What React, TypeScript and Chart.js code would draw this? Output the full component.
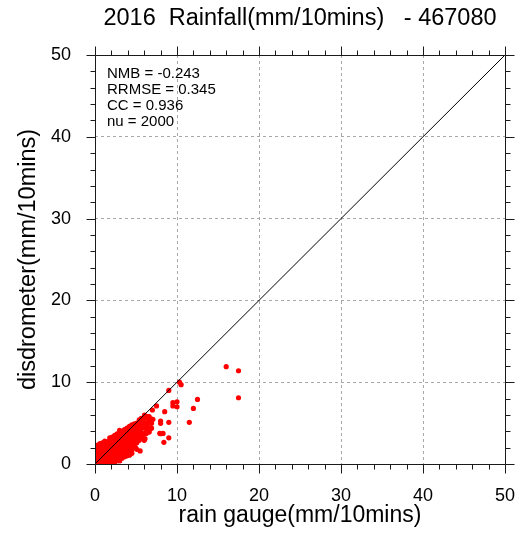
import React, { useEffect, useRef } from 'react';
import { Chart, registerables } from 'chart.js';

Chart.register(...registerables);

const chartTitle = '2016  Rainfall(mm/10mins)   - 467080';
const xAxisTitle = 'rain gauge(mm/10mins)';
const yAxisTitle = 'disdrometer(mm/10mins)';
const axisMin = 0;
const axisMax = 50;
const majorStep = 10;
const minorStep = 2;
const statsLines = ['NMB = -0.243', 'RRMSE = 0.345', 'CC = 0.936', 'nu = 2000'];
const oneToOneLine: [number, number][] = [[0, 0], [50, 50]];

// dense cluster near the origin [rain gauge, disdrometer]
const coreSamples: [number, number][] = [
  [0.3, 0.2], [0.3, 0.5], [0.3, 0.8], [0.3, 1.1], [0.3, 1.4], [0.3, 1.7], [0.3, 2.0], [0.3, 2.3],
  [0.6, 0.1], [0.6, 0.4], [0.6, 0.7], [0.6, 1.0], [0.6, 1.3], [0.6, 1.6], [0.6, 1.9], [0.6, 2.2], [0.6, 2.5],
  [0.9, 0.2], [0.9, 0.5], [0.9, 0.8], [0.9, 1.1], [0.9, 1.4], [0.9, 1.7], [0.9, 2.0], [0.9, 2.3], [0.9, 2.6],
  [1.2, 0.1], [1.2, 0.4], [1.2, 0.7], [1.2, 1.0], [1.2, 1.3], [1.2, 1.6], [1.2, 1.9], [1.2, 2.2], [1.2, 2.5], [1.2, 2.8],
  [1.5, 0.3], [1.5, 0.6], [1.5, 0.9], [1.5, 1.2], [1.5, 1.5], [1.5, 1.8], [1.5, 2.1], [1.5, 2.4], [1.5, 2.7],
  [1.8, 0.2], [1.8, 0.5], [1.8, 0.8], [1.8, 1.1], [1.8, 1.4], [1.8, 1.7], [1.8, 2.0], [1.8, 2.3], [1.8, 2.6], [1.8, 2.9], [1.8, 3.2],
  [2.1, 0.3], [2.1, 0.6], [2.1, 0.9], [2.1, 1.2], [2.1, 1.5], [2.1, 1.8], [2.1, 2.1], [2.1, 2.4], [2.1, 2.7], [2.1, 3.0], [2.1, 3.3],
  [2.4, 0.2], [2.4, 0.5], [2.4, 0.8], [2.4, 1.1], [2.4, 1.4], [2.4, 1.7], [2.4, 2.0], [2.4, 2.3], [2.4, 2.6], [2.4, 2.9], [2.4, 3.2], [2.4, 3.5],
  [2.7, 0.4], [2.7, 0.7], [2.7, 1.0], [2.7, 1.3], [2.7, 1.6], [2.7, 1.9], [2.7, 2.2], [2.7, 2.5], [2.7, 2.8], [2.7, 3.1], [2.7, 3.4], [2.7, 3.7],
  [3.0, 0.4], [3.0, 0.8], [3.0, 1.1], [3.0, 1.4], [3.0, 1.7], [3.0, 2.0], [3.0, 2.3], [3.0, 2.6], [3.0, 2.9], [3.0, 3.2], [3.0, 3.5], [3.0, 3.8], [3.0, 4.1],
  [3.3, 0.7], [3.3, 1.0], [3.3, 1.3], [3.3, 1.6], [3.3, 1.9], [3.3, 2.2], [3.3, 2.5], [3.3, 2.8], [3.3, 3.1], [3.3, 3.4], [3.3, 3.7], [3.3, 4.0],
  [3.6, 0.9], [3.6, 1.2], [3.6, 1.5], [3.6, 1.8], [3.6, 2.1], [3.6, 2.4], [3.6, 2.7], [3.6, 3.0], [3.6, 3.3], [3.6, 3.6], [3.6, 3.9], [3.6, 4.2],
  [3.9, 1.0], [3.9, 1.4], [3.9, 1.7], [3.9, 2.0], [3.9, 2.3], [3.9, 2.6], [3.9, 2.9], [3.9, 3.2], [3.9, 3.5], [3.9, 3.8], [3.9, 4.1], [3.9, 4.4],
  [4.2, 1.1], [4.2, 1.5], [4.2, 1.9], [4.2, 2.2], [4.2, 2.5], [4.2, 2.8], [4.2, 3.1], [4.2, 3.4], [4.2, 3.7], [4.2, 4.0], [4.2, 4.3], [4.2, 4.6],
  [4.5, 1.3], [4.5, 1.7], [4.5, 2.1], [4.5, 2.5], [4.5, 2.9], [4.5, 3.2], [4.5, 3.5], [4.5, 3.8], [4.5, 4.1], [4.5, 4.4], [4.5, 4.8],
  [4.8, 2.0], [4.8, 2.4], [4.8, 2.8], [4.8, 3.2], [4.8, 3.6], [4.8, 4.0], [4.8, 4.4], [4.8, 4.9],
  [5.1, 1.8], [5.1, 2.6], [5.1, 3.0], [5.1, 3.4], [5.1, 3.8], [5.1, 4.2], [5.1, 4.6], [5.1, 5.0],
  [5.4, 2.9], [5.4, 3.3], [5.4, 3.7], [5.4, 4.1], [5.4, 4.5], [5.4, 5.0], [5.4, 5.4],
  [5.7, 3.3], [5.7, 3.8], [5.7, 4.4], [5.7, 4.9], [5.7, 5.4],
  [6.0, 3.0], [6.0, 3.7], [6.0, 4.4], [6.0, 5.0], [6.0, 5.6],
  [6.3, 4.0], [6.3, 4.6], [6.3, 5.0], [6.3, 5.8],
  [6.6, 3.9], [6.6, 4.4], [6.6, 5.0], [6.6, 5.4], [6.6, 5.8],
  [6.9, 4.4], [6.9, 5.0], [6.9, 5.5],
];

// scattered points away from the cluster [rain gauge, disdrometer]
const outlierSamples: [number, number][] = [
  [10.3, 10.0], [10.5, 9.7], [9.0, 9.0], [12.5, 7.9], [17.5, 8.1], [16.0, 11.9], [17.5, 11.4],
  [10.0, 7.6], [9.5, 7.5], [9.5, 7.1], [10.0, 7.0], [7.5, 7.1], [12.0, 6.8], [7.0, 6.6], [8.5, 6.4],
  [8.0, 5.25], [8.0, 4.97], [9.0, 5.1], [11.5, 5.1], [8.0, 3.7], [9.0, 3.2], [8.4, 2.65],
  [6.0, 2.9], [6.1, 3.1], [5.5, 1.6], [4.95, 2.0], [4.2, 1.1], [3.0, 0.4],
  [7.06, 5.46], [6.57, 5.37], [6.04, 5.58], [5.64, 5.58], [5.43, 4.97], [6.57, 3.95], [7.9, 3.75],
  [6.04, 5.98], [6.45, 5.78], [6.25, 4.97], [6.86, 4.97], [5.64, 4.36], [6.25, 4.36], [6.86, 4.36],
  [6.25, 3.74], [8.3, 3.74], [5.64, 3.33],
];

const framePlugin = {
  id: 'ncFrame',
  afterDatasetsDraw(chart: any) {
    const { ctx, chartArea: a, scales } = chart;
    const xs = scales.x;
    const ys = scales.y;
    ctx.save();
    ctx.strokeStyle = '#1a1a1a';
    ctx.lineWidth = 1;
    const L = Math.round(a.left) + 0.5;
    const R = Math.round(a.right) + 0.5;
    const T = Math.round(a.top) + 0.5;
    const B = Math.round(a.bottom) + 0.5;
    ctx.beginPath();
    ctx.rect(L, T, R - L, B - T);
    ctx.stroke();
    ctx.beginPath();
    for (let v = axisMin; v <= axisMax; v += minorStep) {
      const len = v % majorStep === 0 ? 9 : 5;
      const px = Math.round(xs.getPixelForValue(v)) + 0.5;
      const py = Math.round(ys.getPixelForValue(v)) + 0.5;
      ctx.moveTo(px, B); ctx.lineTo(px, B + len);
      ctx.moveTo(px, T); ctx.lineTo(px, T - len);
      ctx.moveTo(L, py); ctx.lineTo(L - len, py);
      ctx.moveTo(R, py); ctx.lineTo(R + len, py);
    }
    ctx.stroke();
    ctx.fillStyle = '#000';
    ctx.font = '15px "Liberation Sans", Arial, Helvetica, sans-serif';
    ctx.textAlign = 'left';
    ctx.textBaseline = 'alphabetic';
    statsLines.forEach((s, i) => {
      ctx.fillText(s, a.left + 12, a.top + 23 + i * 16);
    });
    ctx.restore();
  },
};

export default function App() {
  const ref = useRef<HTMLCanvasElement | null>(null);
  useEffect(() => {
    if (!ref.current) return;
    Chart.defaults.font.family = '"Liberation Sans", Arial, Helvetica, sans-serif';
    Chart.defaults.color = '#000';
    const gridColor = (c: any) =>
      c.tick && c.tick.value > axisMin && c.tick.value < axisMax ? '#a8a8a8' : 'rgba(0,0,0,0)';
    const chart = new Chart(ref.current, {
      type: 'scatter',
      data: {
        datasets: [
          {
            type: 'line',
            data: oneToOneLine.map(([x, y]) => ({ x, y })),
            borderColor: '#000',
            borderWidth: 1,
            pointRadius: 0,
            fill: false,
          } as any,
          {
            data: coreSamples.concat(outlierSamples).map(([x, y]) => ({ x, y })),
            backgroundColor: '#ff0000',
            borderWidth: 0,
            pointRadius: 2.6,
          },
        ],
      },
      plugins: [framePlugin],
      options: {
        animation: false,
        responsive: false,
        devicePixelRatio: 1,
        layout: { padding: { top: 0, right: 13, bottom: 0, left: 0 } },
        plugins: {
          legend: { display: false },
          tooltip: { enabled: false },
          title: {
            display: true,
            text: chartTitle,
            fullSize: false,
            color: '#000',
            font: { size: 23.5, weight: 'normal' },
            padding: { top: 4, bottom: 22.8 },
          },
        },
        scales: {
          x: {
            type: 'linear',
            min: axisMin,
            max: axisMax,
            ticks: { stepSize: majorStep, padding: 21, font: { size: 18 }, color: '#000', maxRotation: 0 },
            grid: { drawTicks: false, color: gridColor, lineWidth: 1 },
            border: { display: false, dash: [3, 3] },
            title: { display: true, text: xAxisTitle, color: '#000', font: { size: 23 }, padding: { top: 0, bottom: 14 } },
            afterFit: (s: any) => {
              s.height = 79;
              s.paddingLeft = 0;
              s.paddingRight = 0;
            },
          },
          y: {
            type: 'linear',
            min: axisMin,
            max: axisMax,
            ticks: { stepSize: majorStep, padding: 24, font: { size: 18 }, color: '#000' },
            grid: { drawTicks: false, color: gridColor, lineWidth: 1 },
            border: { display: false, dash: [3, 3] },
            title: { display: true, text: yAxisTitle, color: '#000', font: { size: 23.5 }, padding: { top: 14, bottom: 0 } },
            afterFit: (s: any) => {
              s.width = 95;
              s.paddingTop = 0;
              s.paddingBottom = 0;
            },
          },
        },
      },
    } as any);
    return () => chart.destroy();
  }, []);
  return (
    <div style={{ position: 'absolute', left: 0, top: 0, width: 518, height: 543, background: '#fff' }}>
      <canvas ref={ref} width={518} height={543} />
    </div>
  );
}
